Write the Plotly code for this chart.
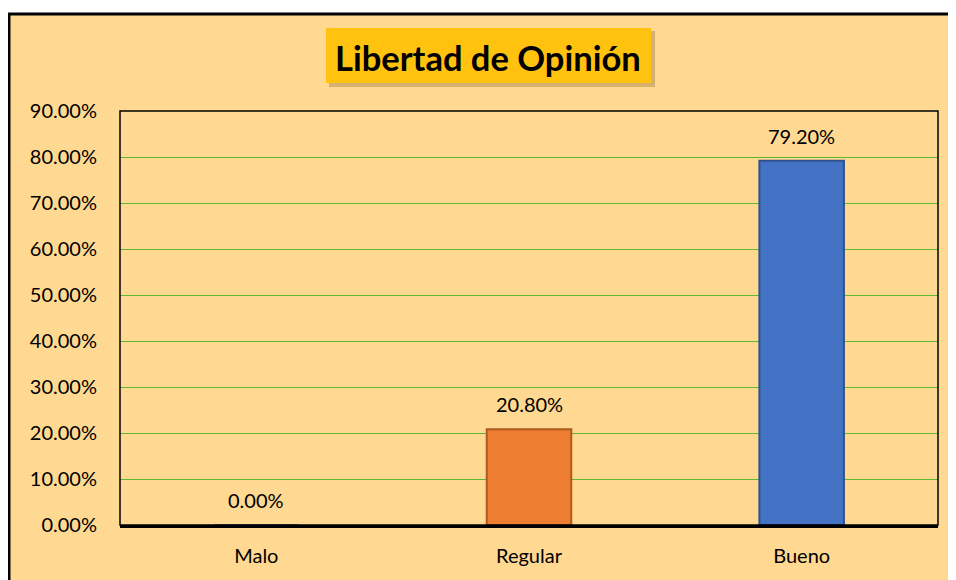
import plotly.graph_objects as go

# data
categorias = ['Malo', 'Regular', 'Bueno']
porcentajes = [0.0, 0.208, 0.792]
colores = ['#A5A5A5', '#ED7D31', '#4472C4']
bordes = ['#7F7F7F', '#AE5A21', '#2F528F']
titulo = 'Libertad de Opinión'

fondo = '#FFD991'

# page body has an 8px margin, so the figure starts at (8, 8)
OFF = 8

# helpers: window pixel -> paper coords (plot area 120..938 x 111..525)
def px(x):
    return (x - 120) / 818.0

def py(y):
    return (525 - y) / 414.0

fig = go.Figure()
fig.add_trace(go.Bar(
    x=categorias, y=porcentajes,
    marker=dict(color=colores, line=dict(color=bordes, width=2)),
    width=0.31,
))

shapes = [
    # white strip above the chart frame
    dict(type='rect', xref='paper', yref='paper',
         x0=px(0), x1=px(975), y0=py(13), y1=py(0),
         fillcolor='white', line=dict(width=0)),
    # outer chart frame
    dict(type='rect', xref='paper', yref='paper',
         x0=px(9), x1=px(975), y0=py(600), y1=py(14),
         line=dict(color='black', width=3)),
    # plot area border
    dict(type='rect', xref='paper', yref='paper',
         x0=0, x1=1, y0=0, y1=1, line=dict(color='black', width=1.5)),
    # title box shadow + box
    dict(type='rect', xref='paper', yref='paper',
         x0=px(329), x1=px(655), y0=py(87), y1=py(31),
         fillcolor='rgba(120,90,40,0.30)', line=dict(width=0)),
    dict(type='rect', xref='paper', yref='paper',
         x0=px(326), x1=px(651), y0=py(83), y1=py(28),
         fillcolor='#FFC20E', line=dict(width=0)),
]

annots = [dict(
    text='<b>' + titulo + '</b>', xref='paper', yref='paper',
    x=px(488), y=py(57), xanchor='center', yanchor='middle', showarrow=False,
    font=dict(family='Lato', size=34.5, color='black'),
)]
# value labels above the bars
for c, v in zip(categorias, porcentajes):
    annots.append(dict(
        text='{:.2%}'.format(v), x=c, y=v, xref='x', yref='y',
        xanchor='center', yanchor='bottom', yshift=11, showarrow=False,
        font=dict(family='Lato', size=20, color='black'),
    ))

fig.update_layout(
    width=956 - OFF, height=580 - OFF,
    margin=dict(l=120 - OFF, r=18, t=111 - OFF, b=55),
    paper_bgcolor=fondo,
    plot_bgcolor=fondo,
    showlegend=False,
    shapes=shapes,
    annotations=annots,
    font=dict(family='Lato', size=20, color='black'),
)

fig.update_yaxes(
    range=[0, 0.9], dtick=0.1, tickformat='.2%',
    showgrid=True, gridcolor='#5DB82E', gridwidth=1,
    zeroline=False, ticks='', ticklabelstandoff=22, automargin=False,
    tickfont=dict(family='Lato', size=20),
)
fig.update_xaxes(
    showline=True, linecolor='black', linewidth=3,
    ticks='', ticklabelstandoff=11, automargin=False,
    tickfont=dict(family='Lato', size=20),
)

fig.write_html("out.html")
